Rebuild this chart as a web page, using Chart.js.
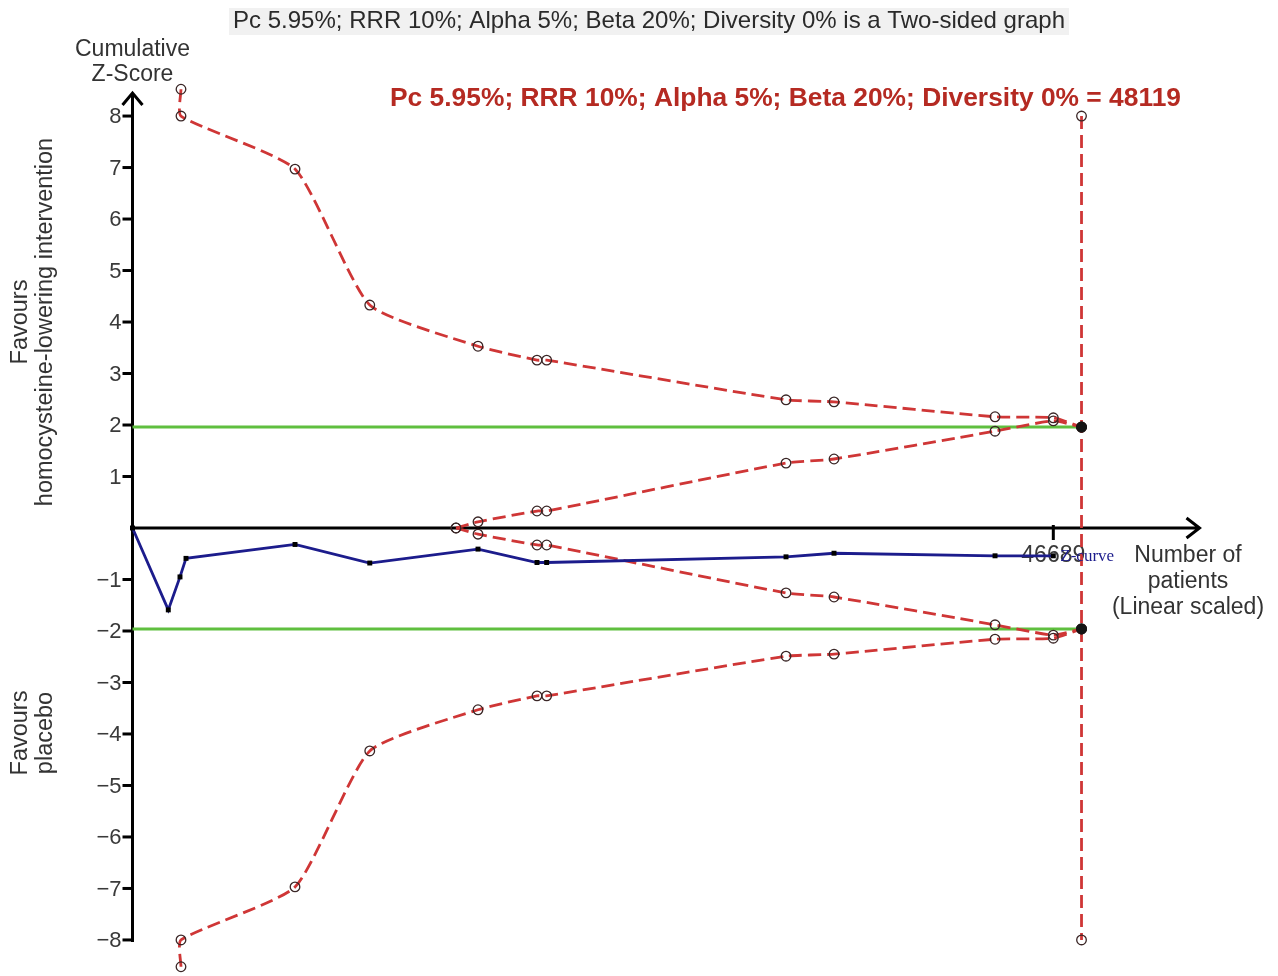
<!DOCTYPE html>
<html>
<head>
<meta charset="utf-8">
<title>Trial sequential analysis</title>
<script src="https://cdn.jsdelivr.net/npm/chart.js@4.4.1/dist/chart.umd.min.js"></script>
<style>
  html, body { margin: 0; padding: 0; background: #fff; }
  #wrap { width: 1278px; height: 976px; }
</style>
</head>
<body>
<div id="wrap"><canvas id="tsaChart" width="1278" height="976"></canvas></div>
<script>
/* global Chart */

// cumulative Z-curve (patients, z)
const zPatients = [0, 1815, 2408, 2713, 8240, 12030, 17518, 20510, 21000, 33136, 35570, 43734, 46689];
const zScores = [0, -1.59, -0.95, -0.59, -0.32, -0.68, -0.41, -0.67, -0.67, -0.56, -0.49, -0.54, -0.54];

// O'Brien-Fleming style monitoring boundaries
const boundaryPatients = [2459, 2459, 8240, 12030, 17518, 20510, 21000, 33136, 35570, 43734, 46689, 48119];
const upperBoundary = [8.52, 8.0, 6.97, 4.33, 3.53, 3.26, 3.26, 2.49, 2.45, 2.16, 2.14, 1.96];
const lowerBoundary = [-8.52, -8.0, -6.97, -4.33, -3.53, -3.26, -3.26, -2.49, -2.45, -2.16, -2.14, -1.96];

// inner wedge (futility)
const futilityPatients = [16403, 17518, 20510, 21000, 33136, 35570, 43734, 46689, 48119];
const upperFutility = [0, 0.12, 0.33, 0.33, 1.26, 1.34, 1.88, 2.08, 1.96];
const lowerFutility = [0, -0.12, -0.33, -0.33, -1.26, -1.34, -1.88, -2.08, -1.96];

const informationSize = 48119;
const risLimits = [8, -8];
const significance = [1.96, -1.96];

const yTicks = [-8, -7, -6, -5, -4, -3, -2, -1, 1, 2, 3, 4, 5, 6, 7, 8];
const xTicks = [46689];

const titleText = "Pc 5.95%; RRR 10%; Alpha 5%; Beta 20%; Diversity 0% is a Two-sided graph";
const risText = "Pc 5.95%; RRR 10%; Alpha 5%; Beta 20%; Diversity 0% = 48119";

function points(xs, ys)
{
    return xs.map((x, i) => ({ x: x, y: ys[i] }));
}

const FONT = "'Liberation Sans', Arial, sans-serif";

const redDash = {
    showLine: true,
    borderColor: "#cf3636",
    borderWidth: 2.8,
    borderDash: [13, 6],
    pointRadius: 4.8,
    pointBorderColor: "#3a2626",
    pointBorderWidth: 1.3,
    pointBackgroundColor: "rgba(0,0,0,0)",
    tension: 0.18,
    clip: false
};

function greenLine(z)
{
    return {
        data: [{ x: 0, y: z }, { x: informationSize, y: z }],
        showLine: true,
        borderColor: "#5fbf3f",
        borderWidth: 3,
        pointRadius: 0,
        clip: false
    };
}

// draws text squeezed/stretched to a given width
function fillFitted(ctx, text, x, y, width)
{
    const w = ctx.measureText(text).width;
    ctx.save();
    ctx.translate(x, y);
    ctx.scale(width / w, 1);
    ctx.fillText(text, 0, 0);
    ctx.restore();
}

// axes with arrow heads, tick marks and tick labels
const axesPlugin = {
    id: "axes",
    beforeDatasetsDraw(chart)
    {
        const ctx = chart.ctx;
        const xs = chart.scales.x;
        const ys = chart.scales.y;
        const x0 = xs.getPixelForValue(0);
        const y0 = ys.getPixelForValue(0);
        const yTop = ys.top + 13;
        const xEnd = xs.right + 2;

        ctx.save();
        ctx.strokeStyle = "#000";
        ctx.lineWidth = 3;
        ctx.lineCap = "butt";

        ctx.beginPath();
        ctx.moveTo(x0, ys.getPixelForValue(-8) + 2);
        ctx.lineTo(x0, yTop);
        ctx.moveTo(x0 - 10, yTop + 12);
        ctx.lineTo(x0, yTop);
        ctx.lineTo(x0 + 10, yTop + 12);
        ctx.stroke();

        ctx.beginPath();
        ctx.moveTo(x0, y0);
        ctx.lineTo(xEnd, y0);
        ctx.moveTo(xEnd - 13, y0 - 10);
        ctx.lineTo(xEnd, y0);
        ctx.lineTo(xEnd - 13, y0 + 10);
        ctx.stroke();

        ctx.font = "22px " + FONT;
        ctx.fillStyle = "#3a3a3a";
        ctx.textAlign = "right";
        ctx.textBaseline = "middle";
        yTicks.forEach(v => {
            const py = ys.getPixelForValue(v);
            ctx.beginPath();
            ctx.moveTo(x0 - 10, py);
            ctx.lineTo(x0, py);
            ctx.stroke();
            ctx.fillText(v < 0 ? "\u2212" + Math.abs(v) : String(v), x0 - 11, py + 1);
        });

        ctx.textAlign = "center";
        ctx.font = "23px " + FONT;
        xTicks.forEach(v => {
            const px = xs.getPixelForValue(v);
            ctx.beginPath();
            ctx.moveTo(px, y0 - 3);
            ctx.lineTo(px, y0 + 12);
            ctx.stroke();
            ctx.fillText(String(v), px, y0 + 28);
        });
        ctx.restore();
    }
};

// titles and axis captions
const textPlugin = {
    id: "captions",
    afterDraw(chart)
    {
        const ctx = chart.ctx;
        const xs = chart.scales.x;
        const ys = chart.scales.y;
        ctx.save();
        ctx.textBaseline = "middle";

        ctx.font = "24px " + FONT;
        ctx.fillStyle = "#f1f1f1";
        ctx.fillRect(229, 8, 840, 27);
        ctx.fillStyle = "#2a2a2a";
        ctx.textAlign = "left";
        fillFitted(ctx, titleText, 233, 21, 832);

        ctx.font = "bold 25px " + FONT;
        ctx.fillStyle = "#b52a22";
        fillFitted(ctx, risText, 390, 99, 791);

        ctx.font = "23px " + FONT;
        ctx.fillStyle = "#333";
        ctx.textAlign = "center";
        const x0 = xs.getPixelForValue(0);
        ctx.fillText("Cumulative", x0, 50);
        ctx.fillText("Z-Score", x0, 75);

        ctx.fillText("Number of", 1188, 556);
        ctx.fillText("patients", 1188, 582);
        ctx.fillText("(Linear scaled)", 1188, 608);

        const side = (lines, cy) => {
            ctx.save();
            ctx.translate(0, cy);
            ctx.rotate(-Math.PI / 2);
            lines.forEach((t, i) => ctx.fillText(t, 0, 21 + i * 25));
            ctx.restore();
        };
        ctx.font = "23.5px " + FONT;
        side(["Favours", "homocysteine-lowering intervention"], 322);
        side(["Favours", "placebo"], 733);

        const last = zPatients.length - 1;
        ctx.font = "17px 'Liberation Serif', 'Times New Roman', serif";
        ctx.fillStyle = "#1c1c8c";
        ctx.textAlign = "left";
        ctx.fillText("Z-curve", xs.getPixelForValue(zPatients[last]) + 7, ys.getPixelForValue(zScores[last]) + 1);
        ctx.restore();
    }
};

new Chart(document.getElementById("tsaChart"), {
    type: "scatter",
    data: {
        datasets: [
            {
                data: points([informationSize, informationSize], significance),
                showLine: false,
                pointRadius: 5,
                pointBackgroundColor: "#141414",
                pointBorderColor: "#141414",
                clip: false
            },
            {
                label: "Z-curve",
                data: points(zPatients, zScores),
                showLine: true,
                borderColor: "#1c1c8c",
                borderWidth: 2.8,
                pointStyle: "rect",
                pointRadius: 3.5,
                pointBackgroundColor: "#000",
                pointBorderColor: "#000",
                pointBorderWidth: 0,
                tension: 0,
                clip: false
            },
            Object.assign({ data: points(boundaryPatients, upperBoundary) }, redDash),
            Object.assign({ data: points(boundaryPatients, lowerBoundary) }, redDash),
            Object.assign({ data: points(futilityPatients, upperFutility) }, redDash),
            Object.assign({ data: points(futilityPatients, lowerFutility) }, redDash),
            Object.assign({ data: points([informationSize, informationSize], risLimits) }, redDash, { tension: 0 }),
            greenLine(significance[0]),
            greenLine(significance[1])
        ]
    },
    options: {
        responsive: false,
        animation: false,
        layout: { autoPadding: false, padding: { left: 132.5, right: 80.5, top: 80, bottom: 0 } },
        scales: {
            x: { type: "linear", min: 0, max: 54000, display: false },
            y: { type: "linear", min: -8.7, max: 8.7, display: false }
        },
        plugins: {
            legend: { display: false },
            tooltip: { enabled: false }
        }
    },
    plugins: [axesPlugin, textPlugin]
});
</script>
</body>
</html>
